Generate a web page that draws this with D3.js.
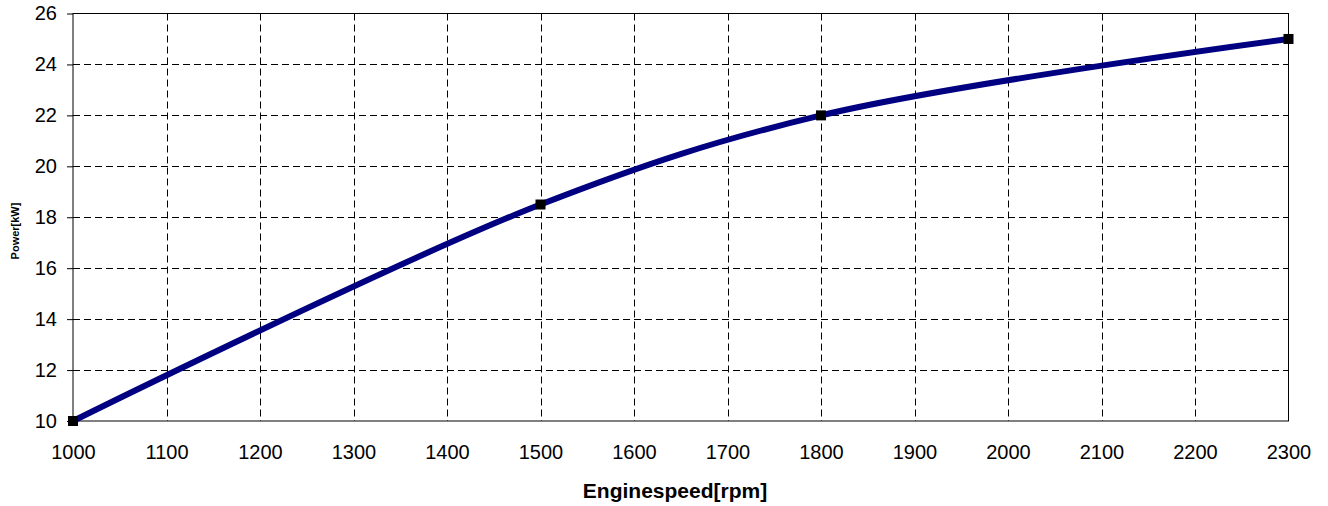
<!DOCTYPE html>
<html><head><meta charset="utf-8">
<script src="https://cdn.jsdelivr.net/npm/d3@7"></script>
<style>body{margin:0;background:#fff}svg{display:block}text{font-family:"Liberation Sans",Arial,sans-serif}</style>
</head><body>
<svg id="c" width="1328" height="506"></svg>
<script>
const speeds = [1000, 1500, 1800, 2300];
const power = [10, 18.5, 22, 25];
const xTicks = [1000,1100,1200,1300,1400,1500,1600,1700,1800,1900,2000,2100,2200,2300];
const yTicks = [10,12,14,16,18,20,22,24,26];

const svg = d3.select("#c");
const L = 73, R = 1288.5, T = 13.5, B = 421;
const x = d3.scaleLinear().domain([1000, 2300]).range([L, R]);
const y = d3.scaleLinear().domain([10, 26]).range([B, T]);

const grid = svg.append("g");
grid.selectAll("line.v").data(xTicks.slice(1, -1)).join("line")
  .attr("x1", d => Math.round(x(d)) + 0.5).attr("x2", d => Math.round(x(d)) + 0.5)
  .attr("y1", T).attr("y2", B)
  .attr("stroke", "#000").attr("stroke-width", 1).attr("stroke-dasharray", "7,4");
grid.selectAll("line.h").data(yTicks.slice(1, -1)).join("line")
  .attr("y1", d => Math.round(y(d)) + 0.5).attr("y2", d => Math.round(y(d)) + 0.5)
  .attr("x1", L).attr("x2", R)
  .attr("stroke", "#000").attr("stroke-width", 1).attr("stroke-dasharray", "7,4");

svg.append("rect").attr("x", L).attr("y", T).attr("width", R - L).attr("height", B - T)
  .attr("fill", "none").attr("stroke", "#000").attr("stroke-width", 1);

// y axis
const yAxis = d3.axisLeft(y).tickValues(yTicks).tickSize(6).tickPadding(10).tickFormat(d3.format("d"));
const ga = svg.append("g").attr("transform", `translate(${L},0)`).call(yAxis);
ga.select(".domain").remove();
ga.selectAll("text").attr("font-size", 20).attr("fill", "#000").style("font-family", "Liberation Sans, Arial, sans-serif");
ga.selectAll("line").attr("stroke", "#000");

// x axis
const xAxis = d3.axisBottom(x).tickValues(xTicks).tickSize(0).tickPadding(24).tickFormat(d3.format("d"));
const gx = svg.append("g").attr("transform", `translate(0,${B})`).call(xAxis);
gx.select(".domain").remove();
gx.selectAll("text").attr("font-size", 20).attr("fill", "#000").style("font-family", "Liberation Sans, Arial, sans-serif");

// line
const pts = speeds.map((s, i) => [s, power[i]]);
const line = d3.line().x(d => x(d[0])).y(d => y(d[1])).curve(d3.curveCatmullRom.alpha(0.5));
svg.append("path").datum(pts).attr("d", line).attr("fill", "none")
  .attr("stroke", "#000080").attr("stroke-width", 6).attr("stroke-linejoin", "round");

svg.selectAll("rect.m").data(pts).join("rect").attr("class", "m")
  .attr("x", d => x(d[0]) - 5).attr("y", d => y(d[1]) - 5)
  .attr("width", 10).attr("height", 10).attr("fill", "#000");

svg.append("text").attr("x", 675).attr("y", 498).attr("text-anchor", "middle")
  .attr("font-size", 21).attr("font-weight", "bold").text("Enginespeed[rpm]");
svg.append("text").attr("transform", "translate(19,231) rotate(-90)").attr("text-anchor", "middle")
  .attr("font-size", 11).attr("font-weight", "bold").text("Power[kW]");
</script>
</body></html>
